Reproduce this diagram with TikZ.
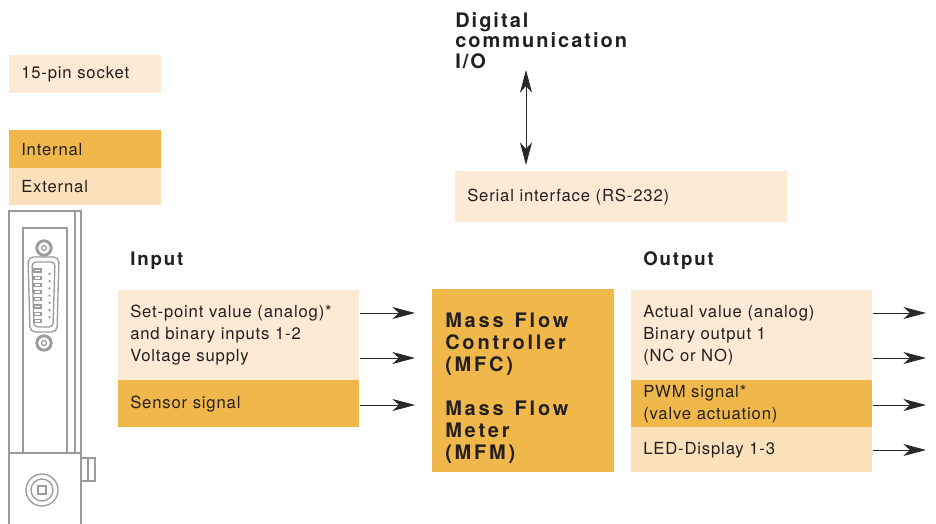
\documentclass[tikz,border=0pt]{standalone}
\usepackage{fontspec}
\setmainfont{TeX Gyre Heros}[LetterSpace=5]
\usepackage{tikz}
\usetikzlibrary{arrows.meta}
\usetikzlibrary{calc}

\begin{document}
\begin{tikzpicture}[x=0.75pt,y=0.75pt,yscale=-1,xscale=1,
  box/.style={anchor=north west,inner xsep=0pt,inner ysep=0pt,align=left,
    font=\fontsize{12.5}{16.5}\selectfont,text={rgb,255:red,35;green,31;blue,32},
    execute at begin node={\leftskip=9pt}},
  pale/.style={box,fill={rgb,255:red,252;green,234;blue,212}},
  ext/.style={box,fill={rgb,255:red,250;green,225;blue,187}},
  int/.style={box,fill={rgb,255:red,240;green,184;blue,74}},
  head/.style={inner sep=0pt,align=left,text={rgb,255:red,35;green,31;blue,32},
    font=\fontsize{14}{15.5}\selectfont\bfseries\addfontfeature{LetterSpace=10}},
  arr/.style={draw={rgb,255:red,40;green,40;blue,40},line width=0.75pt,
    -{Stealth[length=17pt,width=9pt,inset=5pt]}},
  dblarr/.style={arr,{Stealth[length=17pt,width=9pt,inset=5pt]}-{Stealth[length=17pt,width=9pt,inset=5pt]}},
  dev/.style={draw={rgb,255:red,155;green,155;blue,155},line width=1pt}]
  \useasboundingbox (0,0) rectangle (936,524);
  % legend
  \node[pale,text width=114pt,minimum height=28.5pt] (socket) at (9,55) {15-pin socket};
  \node[int,text width=114pt,minimum height=28.5pt] (internal) at (9,130) {Internal};
  \node[ext,text width=114pt,minimum height=27.75pt] (external) at (9,168) {External};
  % device
  \draw[dev,line width=1.5pt] (9,524) -- (9,211) -- (81,211) -- (81,524);
  \draw[dev] (75,211) -- (75,453);
  \draw[dev] (23,453) -- (23,228) -- (67,228) -- (67,453);
  \draw[dev] (9,453) -- (81,453);
  \draw[dev] (81,458) rectangle (95,481);
  \draw[dev] (88,458) -- (88,481);
  \draw[dev] (42,490) circle [radius=16];
  \draw[dev] (42,490) circle [radius=11];
  \draw[dev] (38,486) rectangle (46,494);
  \foreach \y in {248,343} {
    \draw[dev,line width=2.2pt] (44,\y) circle [radius=7.2];
    \draw[dev] (44,\y) circle [radius=2.5];
  }
  \draw[dev,rounded corners=4pt] (28,257) -- (59,257) -- (57,332) -- (30,332) -- cycle;
  \draw[dev,rounded corners=3pt] (32,262) -- (55,262) -- (53,327) -- (34,327) -- cycle;
  \foreach \i in {0,...,7} \draw[dev,line width=0.8pt] (34,269+\i*7.2) rectangle (41,272+\i*7.2);
  \foreach \i in {0,...,6} \fill[fill={rgb,255:red,155;green,155;blue,155}] (49.5,274+\i*7.2) circle [radius=1.3];
  % digital I/O
  \node[head,anchor=north west,font=\fontsize{15}{15.5}\selectfont\bfseries\addfontfeature{LetterSpace=10}]
    (digital) at (455,12) {Digital\\communication\\I/O};
  \node[pale,text width=249pt,minimum height=38.25pt] (serial) at (455,171) {Serial interface (RS-232)};
  \coordinate (io) at (526,70);
  \draw[dblarr,shorten >=4.5pt] (io) -- (serial.north -| io);
  % input
  \node[head,anchor=base west] (input) at (130,266) {Input};
  \node[pale,text width=180.75pt,minimum height=67.5pt] (setpoint) at (118,290)
    {Set-point value (analog)*\\and binary inputs 1-2\\Voltage supply};
  \node[int,text width=180.75pt,minimum height=35.25pt] (sensor) at (118,380) {Sensor signal};
  % mfc
  \node[int,text width=136.5pt,minimum height=137.25pt,
    font=\fontsize{15}{16.5}\selectfont\bfseries\addfontfeature{LetterSpace=14},
    execute at begin node={\leftskip=9.75pt}] (mfc) at (432,289)
    {\rule{0pt}{22pt}Mass\hspace{0.55em}Flow\\Controller\\(MFC)\\[16.5pt]Mass\hspace{0.55em}Flow\\Meter\\(MFM)};
  \path ($(setpoint.north east)+(0,23)$) coordinate (in1)
        ($(setpoint.north east)+(0,68)$) coordinate (in2)
        ($(sensor.north east)+(0,25)$) coordinate (in3);
  \foreach \p in {in1,in2,in3} \draw[arr,shorten >=12.75pt] (\p) -- (\p -| mfc.west);
  % output
  \node[head,anchor=base west] (output) at (643,266) {Output};
  \node[pale,text width=180.75pt,minimum height=67.5pt] (actual) at (631,290)
    {Actual value (analog)\\Binary output 1\\(NC or NO)};
  \node[int,text width=180.75pt,minimum height=35.25pt] (pwm) at (631,380)
    {PWM signal*\\(valve actuation)};
  \node[ext,text width=180.75pt,minimum height=33.75pt] (led) at (631,427) {LED-Display 1-3};
  \coordinate (outtip) at (926,0);
  \path ($(actual.north east)+(0,23)$) coordinate (out1)
        ($(actual.north east)+(0,68)$) coordinate (out2)
        ($(pwm.north east)+(0,25)$) coordinate (out3)
        ($(led.north east)+(0,23)$) coordinate (out4);
  \foreach \p in {out1,out2,out3,out4} \draw[arr] (\p) -- (\p -| outtip);
\end{tikzpicture}
\end{document}
